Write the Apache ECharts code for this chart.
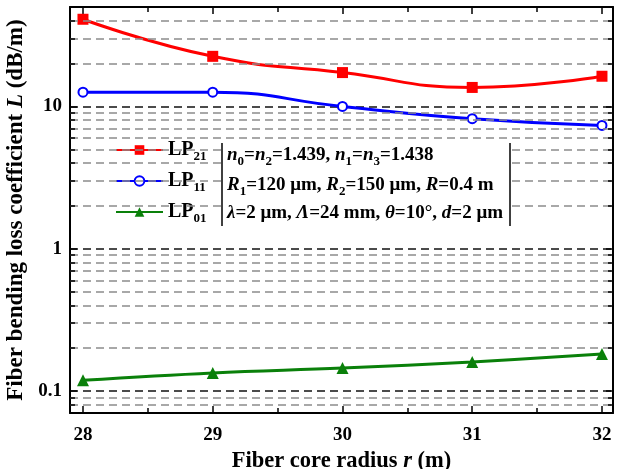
<!DOCTYPE html>
<html lang="en">
<head>
  <meta charset="UTF-8">
  <title>Fiber bending loss coefficient</title>
  <script src="https://cdn.jsdelivr.net/npm/echarts@6/dist/echarts.min.js"></script>
  <style>
    html, body { margin: 0; padding: 0; background: #fff; }
    #chart { width: 620px; height: 469px; }
  </style>
</head>
<body>
<div id="chart"></div>
<script>
  // fiber core radius r (m)
  let radius = [28, 29, 30, 31, 32];
  // bending loss coefficient L (dB/m)
  let lp21 = [41, 22.5, 17.3, 13.6, 16.3];
  let lp11 = [12.6, 12.6, 10.0, 8.2, 7.35];
  let lp01 = [0.119, 0.134, 0.145, 0.16, 0.182];
  let seriesNames = ['LP21', 'LP11', 'LP01'];
  let xRange = [27.9, 32.085];
  let yRange = [0.07, 50];
  let minorX = [28.5, 29.5, 30.5, 31.5];

  const serif = '"Liberation Serif", "Times New Roman", serif';

  // 2..9 of every decade inside the y range (grid lines + small ticks)
  let minorY = [];
  [0.01, 0.1, 1, 10].forEach(function (d) {
    for (let k = 2; k <= 9; k++) {
      let v = +(k * d).toPrecision(3);
      if (v > yRange[0] && v < yRange[1]) minorY.push(v);
    }
  });

  // tick length ~5px in data units
  let dx = 0.0385;
  let fy = 1.084;
  let tickLines = [];
  minorY.forEach(function (v) {
    tickLines.push([{coord: [xRange[0], v]}, {coord: [xRange[0] + dx, v]}]);
    tickLines.push([{coord: [xRange[1] - dx, v]}, {coord: [xRange[1], v]}]);
  });
  minorX.forEach(function (x) {
    tickLines.push([{coord: [x, yRange[0]]}, {coord: [x, yRange[0] * fy]}]);
    tickLines.push([{coord: [x, yRange[1] / fy]}, {coord: [x, yRange[1]]}]);
  });

  function pair(xs, ys) {
    return xs.map(function (x, i) { return [x, ys[i]]; });
  }

  function isDecade(v) {
    let l = Math.log10(v);
    return Math.abs(l - Math.round(l)) < 1e-6;
  }

  const axisBlack = {lineStyle: {color: '#000', width: 2}};
  const tickIn = {show: true, inside: true, length: 7, lineStyle: {color: '#000', width: 1.5}};

  let rich = {
    b: {fontFamily: serif, fontWeight: 'bold', fontSize: 19, color: '#000', lineHeight: 26},
    i: {fontFamily: serif, fontWeight: 'bold', fontStyle: 'italic', fontSize: 19, color: '#000', lineHeight: 26},
    s: {fontFamily: serif, fontWeight: 'bold', fontSize: 13, color: '#000', lineHeight: 10, verticalAlign: 'bottom'}
  };

  let chart = echarts.init(document.getElementById('chart'));
  chart.setOption({
    animation: false,
    grid: {left: 70, right: 7, top: 7, bottom: 56, outerBoundsMode: 'none'},
    legend: {
      orient: 'vertical',
      left: 110,
      top: 135,
      data: seriesNames,
      backgroundColor: '#fff',
      padding: [2, 8, 8, 5],
      itemWidth: 47,
      itemHeight: 12,
      itemGap: 5,
      formatter: function (n) {
        return '{m|LP}{s|' + n.slice(2) + '}';
      },
      textStyle: {
        lineHeight: 26,
        rich: {
          m: {fontFamily: serif, fontWeight: 'bold', fontSize: 20, color: '#000', lineHeight: 26},
          s: {fontFamily: serif, fontWeight: 'bold', fontSize: 13, color: '#000', lineHeight: 10,
              padding: [12, 0, 0, 0], verticalAlign: 'bottom'}
        }
      }
    },
    xAxis: [{
      type: 'value',
      min: xRange[0],
      max: xRange[1],
      splitNumber: 4,
      axisLine: axisBlack,
      axisTick: tickIn,
      splitLine: {show: false},
      axisLabel: {
        margin: 13,
        fontFamily: serif, fontWeight: 'bold', fontSize: 19, color: '#000',
        formatter: function (v) { return Number.isInteger(v) ? String(v) : ''; }
      },
      name: '{b|Fiber core radius }{i|r}{b| (m)}',
      nameLocation: 'middle',
      nameGap: 29,
      nameTextStyle: {
        rich: {
          b: {fontFamily: serif, fontWeight: 'bold', fontSize: 22.5, color: '#000'},
          i: {fontFamily: serif, fontWeight: 'bold', fontStyle: 'italic', fontSize: 22.5, color: '#000'}
        }
      }
    }, {
      type: 'value',
      position: 'top',
      min: xRange[0],
      max: xRange[1],
      splitNumber: 4,
      axisLine: axisBlack,
      axisTick: tickIn,
      splitLine: {show: false},
      axisLabel: {show: false}
    }],
    yAxis: [{
      type: 'log',
      min: yRange[0],
      max: yRange[1],
      axisLine: axisBlack,
      axisTick: tickIn,
      splitLine: {show: true, lineStyle: {color: '#111', type: [8, 5], width: 1.5}},
      axisLabel: {
        margin: 8,
        fontFamily: serif, fontWeight: 'bold', fontSize: 19, color: '#000',
        formatter: function (v) { return isDecade(v) ? String(+v.toPrecision(3)) : ''; }
      },
      name: '{b|Fiber bending loss coefficient }{i|L}{b| (dB/m)}',
      nameLocation: 'middle',
      nameGap: 40,
      nameTextStyle: {
        rich: {
          b: {fontFamily: serif, fontWeight: 'bold', fontSize: 23, color: '#000'},
          i: {fontFamily: serif, fontWeight: 'bold', fontStyle: 'italic', fontSize: 23, color: '#000'}
        }
      }
    }, {
      type: 'log',
      position: 'right',
      min: yRange[0],
      max: yRange[1],
      axisLine: axisBlack,
      axisTick: tickIn,
      splitLine: {show: false},
      axisLabel: {show: false}
    }],
    series: [{
      // dashed grid lines for 2..9 of each decade
      type: 'line',
      data: [],
      silent: true,
      markLine: {
        silent: true,
        symbol: ['none', 'none'],
        label: {show: false},
        lineStyle: {color: '#8c8c8c', type: [8, 5], width: 1.5},
        data: minorY.map(function (v) { return {yAxis: v}; })
      }
    }, {
      // small inward ticks
      type: 'line',
      data: [],
      silent: true,
      markLine: {
        silent: true,
        symbol: ['none', 'none'],
        label: {show: false},
        lineStyle: {color: '#000', type: 'solid', width: 1.5},
        data: tickLines
      }
    }, {
      name: 'LP21',
      type: 'line',
      smooth: 0.5,
      data: pair(radius, lp21),
      symbol: 'rect',
      symbolSize: 11,
      lineStyle: {color: '#ff0000', width: 3},
      itemStyle: {color: '#ff0000'}
    }, {
      name: 'LP11',
      type: 'line',
      smooth: 0.5,
      data: pair(radius, lp11),
      symbol: 'emptyCircle',
      symbolSize: 9,
      lineStyle: {color: '#0000ff', width: 3},
      itemStyle: {color: '#0000ff', borderWidth: 3}
    }, {
      name: 'LP01',
      type: 'line',
      smooth: 0.4,
      data: pair(radius, lp01),
      symbol: 'triangle',
      symbolSize: 12,
      lineStyle: {color: '#0a800a', width: 3},
      itemStyle: {color: '#0a800a'}
    }],
    graphic: [{
      type: 'rect',
      shape: {x: 222, y: 143, width: 288, height: 85},
      style: {fill: '#fff'},
      z: 10
    }, {
      type: 'line',
      shape: {x1: 222, y1: 143, x2: 222, y2: 226},
      style: {stroke: '#000', lineWidth: 1.5},
      z: 11
    }, {
      type: 'line',
      shape: {x1: 510, y1: 143, x2: 510, y2: 226},
      style: {stroke: '#000', lineWidth: 1.5},
      z: 11
    }, {
      type: 'text',
      x: 227, y: 155, z: 11,
      style: {
        text: '{i|n}{s|0}{b|=}{i|n}{s|2}{b|=1.439, }{i|n}{s|1}{b|=}{i|n}{s|3}{b|=1.438}',
        verticalAlign: 'middle',
        rich: rich
      }
    }, {
      type: 'text',
      x: 227, y: 185, z: 11,
      style: {
        text: '{i|R}{s|1}{b|=120 μm, }{i|R}{s|2}{b|=150 μm, }{i|R}{b|=0.4 m}',
        verticalAlign: 'middle',
        rich: rich
      }
    }, {
      type: 'text',
      x: 227, y: 213, z: 11,
      style: {
        text: '{i|λ}{b|=2 μm, }{i|Λ}{b|=24 mm, }{i|θ}{b|=10°, }{i|d}{b|=2 μm}',
        verticalAlign: 'middle',
        rich: rich
      }
    }]
  });
</script>
</body>
</html>
